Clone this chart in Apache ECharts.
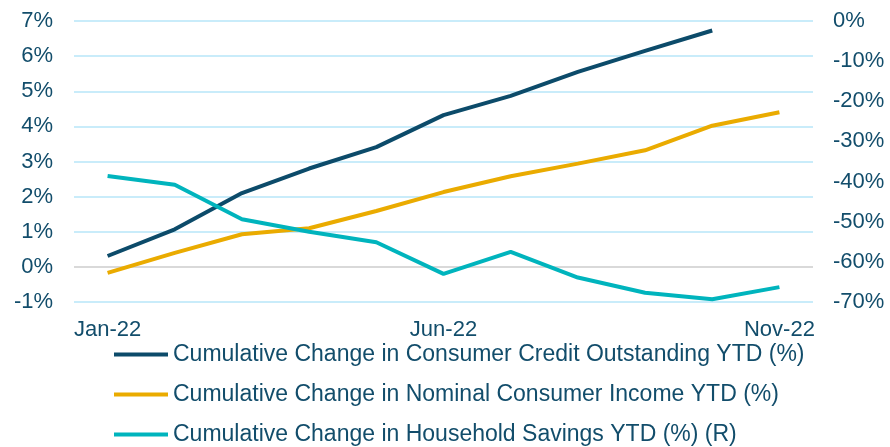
<!DOCTYPE html>
<html><head><meta charset="utf-8">
<script src="https://cdn.jsdelivr.net/npm/echarts@6/dist/echarts.min.js"></script>
<style>html,body{margin:0;padding:0;background:#fff}#c{width:890px;height:447px}</style>
</head><body><div id="c"></div>
<script>
const categories = ['Jan-22','Feb-22','Mar-22','Apr-22','May-22','Jun-22','Jul-22','Aug-22','Sep-22','Oct-22','Nov-22'];
const creditYTD = [0.31, 1.07, 2.10, 2.80, 3.41, 4.32, 4.87, 5.55, 6.15, 6.73, null];
const incomeYTD = [-0.17, 0.40, 0.93, 1.10, 1.59, 2.13, 2.58, 2.94, 3.32, 4.02, 4.40];
const savingsYTD = [-38.6, -40.8, -49.4, -52.5, -55.1, -63.0, -57.5, -63.9, -67.7, -69.3, -66.3];
const seriesNames = [
  'Cumulative Change in Consumer Credit Outstanding YTD (%)',
  'Cumulative Change in Nominal Consumer Income YTD (%)',
  'Cumulative Change in Household Savings YTD (%) (R)'
];
const txt = '#124d6b';
const font = "'Liberation Sans', Arial, sans-serif";
const grid = '#c9ecfa';
const chart = echarts.init(document.getElementById('c'));
chart.setOption({
  animation: false,
  grid: { left: 74, right: 77, top: 21, bottom: 145 },
  legend: {
    orient: 'vertical', left: 114, top: 343, height: 110, itemWidth: 54, itemHeight: 4, itemGap: 17,
    icon: 'rect', padding: 0,
    textStyle: { color: txt, fontFamily: font, fontSize: 23 },
    data: seriesNames
  },
  xAxis: {
    type: 'category', data: categories, boundaryGap: true,
    axisLine: { show: false }, axisTick: { show: false },
    axisLabel: { interval: 4, color: txt, fontFamily: font, fontSize: 22, margin: 17 }
  },
  yAxis: [
    { type: 'value', min: -1, max: 7, interval: 1,
      axisLabel: { formatter: v => v + '%', color: txt, fontFamily: font, fontSize: 22, margin: 21 },
      axisLine: { show: false }, axisTick: { show: false },
      splitLine: { lineStyle: { width: 2, color: [grid, '#d9d9d9', grid, grid, grid, grid, grid, grid, grid] } } },
    { type: 'value', min: -70, max: 0, interval: 10, position: 'right',
      axisLabel: { formatter: v => v + '%', color: txt, fontFamily: font, fontSize: 22, margin: 20 },
      axisLine: { show: false }, axisTick: { show: false }, splitLine: { show: false } }
  ],
  series: [
    { name: seriesNames[0], type: 'line', data: creditYTD, yAxisIndex: 0, showSymbol: false, symbol: 'none',
      lineStyle: { width: 4, color: '#0c4b6a' }, itemStyle: { color: '#0c4b6a' } },
    { name: seriesNames[1], type: 'line', data: incomeYTD, yAxisIndex: 0, showSymbol: false, symbol: 'none',
      lineStyle: { width: 4, color: '#eaab00' }, itemStyle: { color: '#eaab00' } },
    { name: seriesNames[2], type: 'line', data: savingsYTD, yAxisIndex: 1, showSymbol: false, symbol: 'none',
      lineStyle: { width: 4, color: '#00b4bd' }, itemStyle: { color: '#00b4bd' } }
  ]
});
</script></body></html>
